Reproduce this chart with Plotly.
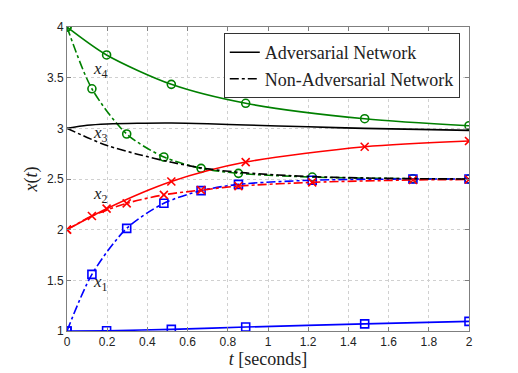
import plotly.graph_objects as go

# adversarial network (solid), markers at solver steps
T_ADV = [0, 0.197, 0.519, 0.889, 1.481, 2.0]
X4_ADV = [4.0, 3.724, 3.434, 3.247, 3.095, 3.026]
X2_ADV = [2.0, 2.207, 2.475, 2.667, 2.818, 2.875]
X1_ADV = [1.0, 1.003, 1.016, 1.039, 1.07, 1.095]

# non-adversarial network (dash-dot)
T_NON = [0, 0.124, 0.297, 0.482, 0.667, 0.853, 1.22, 1.721, 2.0]
X4_NON = [4.0, 3.39, 2.944, 2.717, 2.605, 2.556, 2.519, 2.503, 2.5]
X2_NON = [2.0, 2.135, 2.26, 2.344, 2.39, 2.43, 2.467, 2.49, 2.495]
X1_NON = [1.0, 1.559, 2.013, 2.26, 2.385, 2.447, 2.488, 2.5, 2.5]

# x3 (no markers)
T_X3 = [0, 0.1, 0.2, 0.35, 0.52, 0.7, 0.89, 1.2, 1.48, 1.75, 2.0]
X3_ADV = [3.0, 3.03, 3.043, 3.05, 3.052, 3.045, 3.033, 3.015, 3.0, 2.99, 2.98]
X3_NON = [3.0, 2.91, 2.83, 2.745, 2.665, 2.6, 2.56, 2.525, 2.51, 2.503, 2.5]

LABELS = [("4", 0.165, 3.58), ("3", 0.165, 2.94), ("2", 0.165, 2.34), ("1", 0.165, 1.47)]

GREEN, RED, BLUE = "#008000", "#ff0000", "#0000ff"
SERIF = "Liberation Serif, DejaVu Serif, serif"

fig = go.Figure()

def add(t, y, color, dash, symbol=None, name=None, legend=False):
    fig.add_trace(go.Scatter(
        x=t, y=y, name=name, showlegend=legend,
        mode="lines+markers" if symbol else "lines",
        line=dict(color=color, width=1.6, dash=dash, shape="spline", smoothing=0.8),
        marker=dict(symbol=symbol, size=8, color=color, line=dict(color=color, width=1.6)) if symbol else None,
    ))

add(T_NON, X4_NON, GREEN, "dashdot", "circle-open")
add(T_NON, X1_NON, BLUE, "dashdot", "square-open")
add(T_NON, X2_NON, RED, "dashdot", "x-thin-open")
add(T_ADV, X4_ADV, GREEN, "solid", "circle-open")
add(T_ADV, X2_ADV, RED, "solid", "x-thin-open")
add(T_ADV, X1_ADV, BLUE, "solid", "square-open")
add(T_X3, X3_NON, "black", "dashdot")
add(T_X3, X3_ADV, "black", "solid")

# legend entries
fig.add_trace(go.Scatter(x=[None], y=[None], mode="lines", name="Adversarial Network",
                         line=dict(color="black", width=1.6), showlegend=True))
fig.add_trace(go.Scatter(x=[None], y=[None], mode="lines", name="Non-Adversarial Network",
                         line=dict(color="black", width=1.6, dash="dashdot"), showlegend=True))

for sub, xv, yv in LABELS:
    fig.add_annotation(x=xv, y=yv, text=f"<i>x</i><sub>{sub}</sub>", showarrow=False,
                       font=dict(family=SERIF, size=17, color="#222"))

axis = dict(showline=True, linecolor="#7f7f7f", linewidth=1, mirror="ticks",
            ticks="inside", ticklen=4, tickcolor="#7f7f7f", automargin=False,
            showgrid=True, gridcolor="#d0d0d0", griddash="dot", gridwidth=1,
            zeroline=False, tickfont=dict(family="Liberation Sans, Arial, sans-serif", size=12, color="#222"))

fig.update_xaxes(**axis, range=[0, 2], tickvals=[0, 0.2, 0.4, 0.6, 0.8, 1, 1.2, 1.4, 1.6, 1.8, 2],
                 ticktext=["0", "0.2", "0.4", "0.6", "0.8", "1", "1.2", "1.4", "1.6", "1.8", "2"],
                 title=dict(text="<i>t</i> [seconds]", font=dict(family=SERIF, size=18, color="#222"), standoff=0))
fig.update_yaxes(**axis, range=[1, 4], tickvals=[1, 1.5, 2, 2.5, 3, 3.5, 4],
                 ticktext=["1", "1.5", "2", "2.5", "3", "3.5", "4"],
                 title=dict(text="<i>x</i>(<i>t</i>)", font=dict(family=SERIF, size=18, color="#222"), standoff=4))

# page body adds an 8px offset, so margins are shifted to compensate
fig.update_layout(
    width=518, height=373,
    margin=dict(l=59, r=57, t=19, b=50),
    plot_bgcolor="white", paper_bgcolor="white",
    legend=dict(x=0.39, y=0.98, xanchor="left", yanchor="top", itemwidth=30,
                bordercolor="#333", borderwidth=1, bgcolor="white",
                font=dict(family=SERIF, size=18, color="#222"), tracegroupgap=0),
)

fig.write_html("out.html")
